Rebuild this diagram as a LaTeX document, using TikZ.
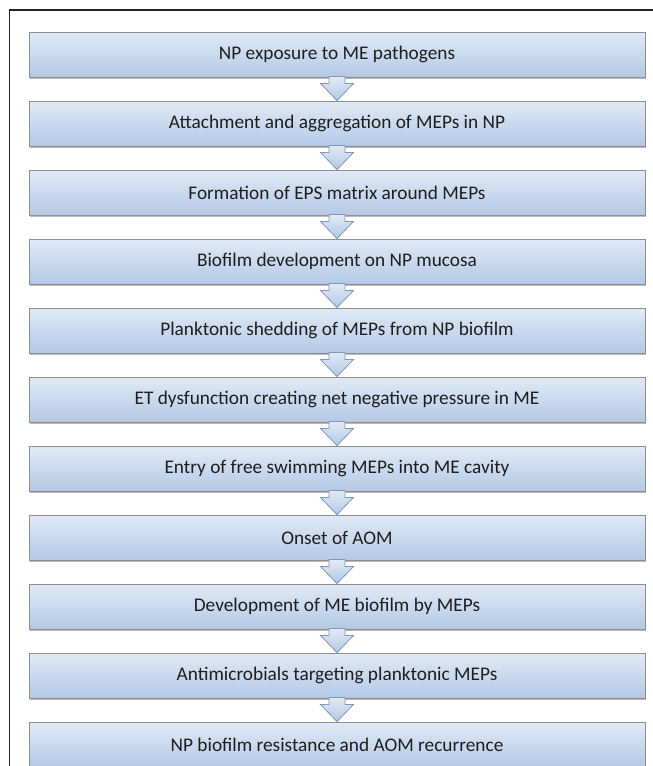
\documentclass[tikz,border=0pt]{standalone}
\usepackage{fontspec}
\setmainfont{Carlito}
\usetikzlibrary{shadows}
\definecolor{boxtop}{HTML}{E1EAF6}
\definecolor{boxbot}{HTML}{B4C8E5}
\definecolor{boxline}{HTML}{8E8E8E}
\definecolor{arrline}{HTML}{8197B6}
\definecolor{txt}{HTML}{1E1E1E}
\tikzset{
  stepbox/.style={rectangle, draw=boxline, line width=0.9pt, top color=boxtop, bottom color=boxbot,
    minimum width=616pt, minimum height=45pt, inner sep=0pt, text=txt,
    font=\fontsize{19.3pt}{22pt}\selectfont,
    drop shadow={shadow xshift=1.2pt, shadow yshift=-2.2pt, fill=black!45, opacity=0.6}},
  downarrow/.style={draw=arrline, line width=0.8pt, top color=boxtop, bottom color=boxbot, line join=miter}
}
\newcommand{\flowarrow}[2]{%
  \path[downarrow] ([xshift=-8pt,yshift=1pt]#1.south) -- ([xshift=-8pt,yshift=-6pt]#1.south)
    -- ([xshift=-16.5pt,yshift=-6pt]#1.south) -- (#2.north) -- ([xshift=16.5pt,yshift=-6pt]#1.south)
    -- ([xshift=8pt,yshift=-6pt]#1.south) -- ([xshift=8pt,yshift=1pt]#1.south) -- cycle;}
\begin{document}
\begin{tikzpicture}[x=1pt,y=-1pt]
\useasboundingbox (0,0) rectangle (653,766);
\begin{scope}
\clip (0,0) rectangle (653,766);
\draw[line width=1.5pt, black!85] (9.5,780) -- (9.5,10) -- (660,10);
\end{scope}
\node[stepbox] (b0) at (337,54.5) {NP exposure to ME pathogens};
\node[stepbox] (b1) at (337,123.5) {Attachment and aggregation of MEPs in NP};
\node[stepbox] (b2) at (337,192.5) {Formation of EPS matrix around MEPs};
\node[stepbox] (b3) at (337,261.5) {Biofilm development on NP mucosa};
\node[stepbox] (b4) at (337,330.5) {Planktonic shedding of MEPs from NP biofilm};
\node[stepbox] (b5) at (337,399.5) {ET dysfunction creating net negative pressure in ME};
\node[stepbox] (b6) at (337,468.5) {Entry of free swimming MEPs into ME cavity};
\node[stepbox] (b7) at (337,537.5) {Onset of AOM};
\node[stepbox] (b8) at (337,606.5) {Development of ME biofilm by MEPs};
\node[stepbox] (b9) at (337,675.5) {Antimicrobials targeting planktonic MEPs};
\node[stepbox] (b10) at (337,744.5) {NP biofilm resistance and AOM recurrence};
\flowarrow{b0}{b1}
\flowarrow{b1}{b2}
\flowarrow{b2}{b3}
\flowarrow{b3}{b4}
\flowarrow{b4}{b5}
\flowarrow{b5}{b6}
\flowarrow{b6}{b7}
\flowarrow{b7}{b8}
\flowarrow{b8}{b9}
\flowarrow{b9}{b10}
\end{tikzpicture}
\end{document}
